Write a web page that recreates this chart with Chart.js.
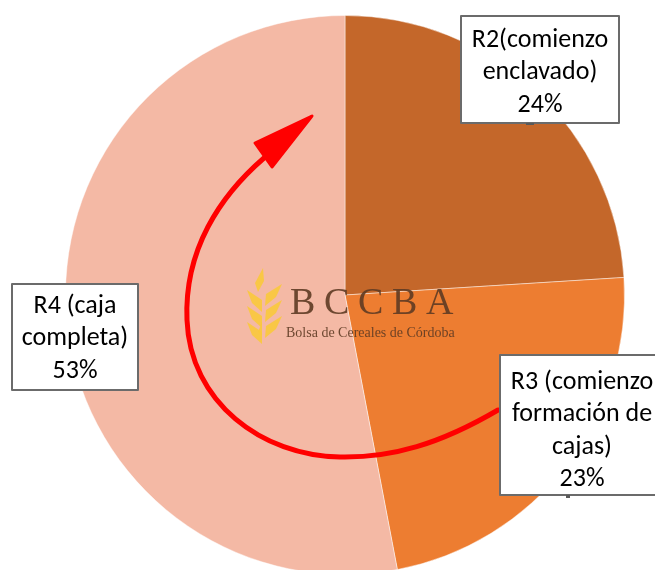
<!doctype html>
<html lang="es">
  <head>
    <meta charset="utf-8">
    <script src="https://cdn.jsdelivr.net/npm/chart.js@4/dist/chart.umd.min.js"></script>
    <title>Etapas R2 - R4</title>
    <style>
      html, body { margin: 0; padding: 0; background: #fff; overflow: hidden; }
      #wrap { position: absolute; left: 0; top: 0; width: 655px; height: 590px; }
    </style>
  </head>
  <body>
    <div id="wrap"><canvas id="pieChart" width="655" height="590"></canvas></div>

  <script>
    // datos
    const categorias = ['R2(comienzo enclavado)', 'R3 (comienzo formación de cajas)', 'R4 (caja completa)'];
    const valores = [24, 23, 53];
    const colores = ['#C4672A', '#ED7D31', '#F4B9A5'];
    const etiquetas = [
        ['R2(comienzo', 'enclavado)', '24%'],
        ['R3 (comienzo', 'formación de', 'cajas)', '23%'],
        ['R4 (caja', 'completa)', '53%']
    ];

    // cajas de etiquetas (x, y, ancho, alto) - acomodadas a mano como en el original
    const cajas = [
        {x: 461, y: 16, w: 158, h: 107, cx: 540, top: 40},
        {x: 500, y: 355, w: 165, h: 140, cx: 582, top: 382},
        {x: 12, y: 284, w: 126, h: 106, cx: 75, top: 306}
    ];
    const LINEA = 32.5;
    const FUENTE = '26px Carlito, Lato, sans-serif';

    function poly(ctx, pts) {
        ctx.beginPath();
        ctx.moveTo(pts[0][0], pts[0][1]);
        for (let i = 1; i < pts.length; i++) ctx.lineTo(pts[i][0], pts[i][1]);
        ctx.closePath();
        ctx.fill();
    }

    const extras = {
        id: 'extras',
        afterDatasetsDraw(chart) {
            const ctx = chart.ctx;
            ctx.save();

            // marca de agua (espiga)
            ctx.globalAlpha = 0.9;
            ctx.fillStyle = '#F9C93C';
            poly(ctx, [[263, 268], [264, 281], [258, 292], [255, 283]]);
            for (let k = 0; k < 3; k++) {
                const d = k * 16;
                poly(ctx, [[247, 290 + d], [262, 300 + d], [262, 312 + d], [252, 303 + d]]);
                poly(ctx, [[282, 284 + d], [266, 294 + d], [265, 306 + d], [276, 297 + d]]);
            }
            poly(ctx, [[262, 322], [262, 336], [258, 332]]);
            ctx.fillStyle = '#5E3B24';
            ctx.font = '38px "Liberation Serif", serif';
            ctx.textBaseline = 'alphabetic';
            ctx.textAlign = 'left';
            const letras = ['B', 'C', 'C', 'B', 'A'];
            letras.forEach((l, i) => ctx.fillText(l, 290 + i * 34, 314));
            ctx.font = '14px "Liberation Serif", serif';
            ctx.fillText('Bolsa de Cereales de Córdoba', 286, 337);
            ctx.globalAlpha = 1;

            // flecha roja
            ctx.strokeStyle = '#FF0000';
            ctx.fillStyle = '#FF0000';
            ctx.lineWidth = 5;
            ctx.lineCap = 'round';
            ctx.beginPath();
            ctx.moveTo(498, 410);
            ctx.bezierCurveTo(440, 444, 392, 458, 340, 457);
            ctx.bezierCurveTo(262, 456, 190, 402, 187, 320);
            ctx.bezierCurveTo(184, 250, 220, 196, 264, 158);
            ctx.stroke();
            ctx.lineJoin = 'round';
            ctx.lineWidth = 3;
            ctx.beginPath();
            ctx.moveTo(312, 116);
            ctx.lineTo(255, 143);
            ctx.lineTo(272, 167);
            ctx.closePath();
            ctx.fill();
            ctx.stroke();

            // etiquetas
            ctx.font = FUENTE;
            ctx.textAlign = 'center';
            ctx.textBaseline = 'middle';
            chart.data.labels.forEach((lab, i) => {
                const c = cajas[i];
                ctx.fillStyle = '#FFFFFF';
                ctx.fillRect(c.x, c.y, c.w, c.h);
                ctx.lineWidth = 2;
                ctx.strokeStyle = '#6B6B6B';
                ctx.strokeRect(c.x, c.y, c.w, c.h);
                ctx.fillStyle = '#000000';
                etiquetas[i].forEach((t, j) => ctx.fillText(t, c.cx, c.top + j * LINEA));
            });
            // pequeñas guias
            ctx.fillStyle = '#595959';
            ctx.fillRect(526, 123, 8, 2);
            ctx.fillRect(566, 495, 4, 3);
            ctx.restore();
        }
    };

    new Chart(document.getElementById('pieChart'), {
        type: 'pie',
        data: {
            labels: categorias,
            datasets: [{
                data: valores,
                backgroundColor: colores,
                borderColor: 'rgba(255,255,255,0.45)',
                borderWidth: 1
            }]
        },
        options: {
            responsive: false,
            animation: false,
            layout: { padding: { left: 65, right: 30, top: 15, bottom: 15 } },
            plugins: {
                legend: { display: false },
                tooltip: { enabled: false }
            }
        },
        plugins: [extras]
    });
  </script>
  </body>
</html>
